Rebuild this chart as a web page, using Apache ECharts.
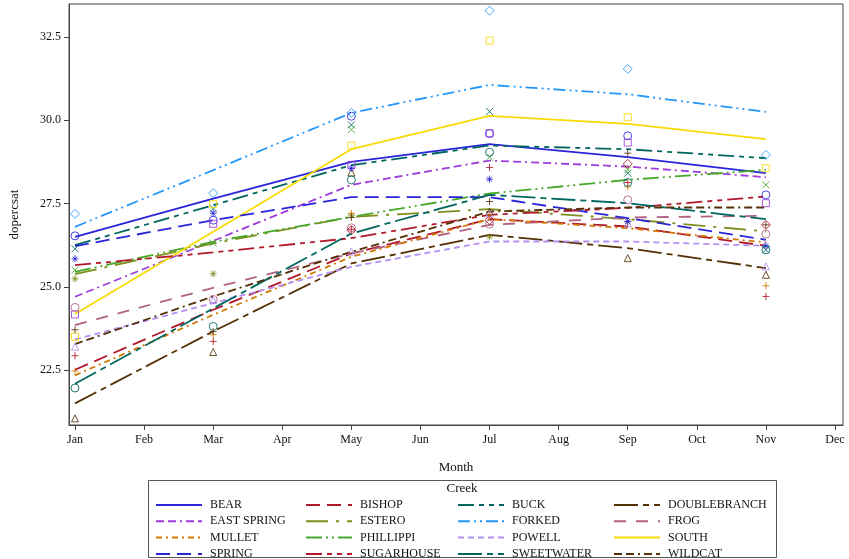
<!DOCTYPE html>
<html>
<head>
<meta charset="utf-8">
<script src="https://cdn.jsdelivr.net/npm/echarts@6/dist/echarts.min.js"></script>
<style>html,body{margin:0;padding:0;background:#fff}#chart{width:849px;height:559px}</style>
</head>
<body>
<div id="chart"></div>
<script>
// ---------- data ----------
const monthLabels = ['Jan','Feb','Mar','Apr','May','Jun','Jul','Aug','Sep','Oct','Nov','Dec'];
const sampleMonths = [1, 3, 5, 7, 9, 11];
const yTicks = [22.5, 25.0, 27.5, 30.0, 32.5];
const creeks = ['BEAR','BISHOP','BUCK','DOUBLEBRANCH','EAST SPRING','ESTERO','FORKED','FROG',
                'MULLET','PHILLIPPI','POWELL','SOUTH','SPRING','SUGARHOUSE','SWEETWATER','WILDCAT'];

// fitted curves (value at Jan, Mar, May, Jul, Sep, Nov)
const fitBear        = [26.50, 27.65, 28.75, 29.28, 28.89, 28.41];
const fitBishop      = [22.51, 24.31, 26.00, 27.03, 26.81, 26.23];
const fitBuck        = [26.25, 27.45, 28.65, 29.24, 29.13, 28.86];
const fitDoublebranch= [21.50, 23.66, 25.70, 26.56, 26.16, 25.56];
const fitEastSpring  = [24.70, 26.38, 28.06, 28.79, 28.61, 28.29];
const fitEstero      = [25.38, 26.30, 27.10, 27.33, 27.03, 26.66];
const fitForked      = [26.80, 28.50, 30.22, 31.06, 30.78, 30.25];
const fitFrog        = [23.85, 24.97, 26.00, 26.86, 27.08, 27.13];
const fitMullet      = [22.34, 24.16, 25.90, 27.03, 26.76, 26.33];
const fitPhillippi   = [25.45, 26.35, 27.10, 27.80, 28.21, 28.51];
const fitPowell      = [23.42, 24.51, 25.60, 26.36, 26.36, 26.23];
const fitSouth       = [24.18, 26.65, 29.13, 30.13, 29.89, 29.43];
const fitSpring      = [26.22, 27.00, 27.69, 27.69, 27.06, 26.41];
const fitSugarhouse  = [25.65, 26.03, 26.46, 27.16, 27.37, 27.71];
const fitSweetwater  = [22.09, 24.35, 26.60, 27.76, 27.51, 27.03];
const fitWildcat     = [23.28, 24.71, 26.05, 27.26, 27.38, 27.38];

// observed values (Jan, Mar, May, Jul, Sep, Nov)
const obsBear        = [26.53, 27.00, 30.12, 29.60, 29.53, 27.76];
const obsBishop      = [22.93, 23.36, 26.72, 28.58, 28.13, 24.71];
const obsBuck        = [26.14, 27.35, 29.86, 30.26, 28.41, 26.11];
const obsDoublebranch= [21.05, 23.04, 28.43, 27.25, 25.86, 25.36];
const obsEastSpring  = [24.17, 26.89, 28.66, 29.61, 29.33, 27.51];
const obsEstero      = [25.24, 25.39, 27.15, 26.50, 26.95, null];
const obsForked      = [27.19, 27.81, 30.22, 33.29, 31.54, 28.96];
const obsFrog        = [24.38, 24.62, 26.77, 26.88, 27.61, 26.58];
const obsMullet      = [22.47, 23.56, 27.20, 27.15, 28.00, 25.03];
const obsPhillippi   = [25.50, 26.31, 29.72, 28.89, 28.51, 28.06];
const obsPowell      = [23.20, 24.60, 26.06, 27.20, 26.90, 25.61];
const obsSouth       = [23.50, 27.48, 29.24, 32.39, 30.09, 28.56];
const obsSpring      = [25.84, 27.21, 28.56, 28.23, 26.96, 26.23];
const obsSugarhouse  = [null,  null,  26.70, 27.00, 28.69, 26.86];
const obsSweetwater  = [21.96, 23.81, 28.21, 29.04, 28.13, 26.11];
const obsWildcat     = [23.71, 23.66, 27.08, 27.56, 29.01, 26.86];

const fits = [fitBear, fitBishop, fitBuck, fitDoublebranch, fitEastSpring, fitEstero, fitForked, fitFrog,
              fitMullet, fitPhillippi, fitPowell, fitSouth, fitSpring, fitSugarhouse, fitSweetwater, fitWildcat];
const obs = [obsBear, obsBishop, obsBuck, obsDoublebranch, obsEastSpring, obsEstero, obsForked, obsFrog,
             obsMullet, obsPhillippi, obsPowell, obsSouth, obsSpring, obsSugarhouse, obsSweetwater, obsWildcat];

// ---------- styles ----------
const palette = ['#2A25D9','#B2182B','#01665E','#543005','#9D3CDB','#7F8E1F',
                 '#2597FA','#B26084','#D17800','#47A82A','#B38EF3','#F9DA04'];
const dashes = ['solid', [14,7], [16,5,5,5,5,5], [24,5,6,5], [8,4,8,4,2,4], [22,8,3,8],
                [12,4,2,4,2,4], [12,10], [6,4,2,4], [16,4,2,4,2,4], [6,4]];
const markers = ['circle',
                 'path://M5,0L5,10M0,5L10,5',
                 'path://M0,0L10,10M10,0L0,10',
                 'triangle', 'rect',
                 'path://M5,0L5,10M0,5L10,5M1.5,1.5L8.5,8.5M8.5,1.5L1.5,8.5',
                 'diamond'];
const FONT = '"Liberation Serif", "DejaVu Serif", serif';

const series = [];
creeks.forEach((name, i) => {
  const color = palette[i % 12];
  series.push({
    name: name, type: 'line', symbol: 'none', showSymbol: false, smooth: false, z: 2,
    data: sampleMonths.map((m, k) => [m, fits[i][k]]),
    lineStyle: { color: color, width: 1.8, type: dashes[i % 11] },
    itemStyle: { color: color },
    emphasis: { disabled: true }
  });
});
creeks.forEach((name, i) => {
  const color = palette[i % 12];
  const sym = markers[i % 7];
  series.push({
    name: name + ' obs', type: 'scatter', z: 3,
    symbol: sym,
    symbolSize: sym === 'diamond' ? 9 : (sym === 'circle' ? 8 : 7),
    data: sampleMonths.map((m, k) => obs[i][k] == null ? null : [m, obs[i][k]]).filter(d => d),
    itemStyle: { color: 'rgba(0,0,0,0)', borderColor: color, borderWidth: 1, opacity: 0.85 },
    emphasis: { disabled: true }
  });
});

const legendCols = [[0,4,8,12],[1,5,9,13],[2,6,10,14],[3,7,11,15]];
const legendLefts = [150, 300, 452, 608];
const legends = legendCols.map((col, c) => ({
  data: col.map(i => creeks[i]),
  orient: 'vertical', left: legendLefts[c], top: 494, height: 80,
  itemWidth: 46, itemHeight: 12, itemGap: 4.3,
  selectedMode: false,
  itemStyle: { opacity: 0 },
  textStyle: { fontFamily: FONT, fontSize: 12, color: '#111', padding: [0,0,0,3] }
}));

const chart = echarts.init(document.getElementById('chart'), null, { renderer: 'canvas' });
chart.setOption({
  animation: false,
  backgroundColor: '#fff',
  grid: { left: 69, right: 6, top: 4, bottom: 134, show: true, borderColor: '#444', borderWidth: 1 },
  xAxis: {
    type: 'value', min: 0.913, max: 12.116,
    name: 'Month', nameLocation: 'middle', nameGap: 36,
    nameTextStyle: { fontFamily: FONT, fontSize: 13, color: '#111' },
    axisLine: { show: true, onZero: false, lineStyle: { color: '#444' } },
    axisTick: { show: true, length: 5, customValues: monthLabels.map((_, k) => k + 1), lineStyle: { color: '#444' } },
    axisLabel: { customValues: monthLabels.map((_, k) => k + 1), formatter: v => monthLabels[Math.round(v) - 1],
                 fontFamily: FONT, fontSize: 12, color: '#111', margin: 9 },
    splitLine: { show: false }
  },
  yAxis: {
    type: 'value', min: 20.85, max: 33.49,
    name: 'dopercsat', nameLocation: 'middle', nameGap: 48, nameRotate: 90,
    nameTextStyle: { fontFamily: FONT, fontSize: 13, color: '#111' },
    axisLine: { show: true, onZero: false, lineStyle: { color: '#444' } },
    axisTick: { show: true, length: 5, customValues: yTicks, lineStyle: { color: '#444' } },
    axisLabel: { customValues: yTicks, formatter: v => v.toFixed(1),
                 fontFamily: FONT, fontSize: 12, color: '#111', margin: 8 },
    splitLine: { show: false }
  },
  legend: legends,
  graphic: [
    { type: 'rect', shape: { x: 148.5, y: 480.5, width: 628, height: 77 },
      style: { fill: 'none', stroke: '#555', lineWidth: 1 }, silent: true },
    { type: 'text', x: 462, y: 489, style: { text: 'Creek', fontFamily: FONT, fontSize: 13, fill: '#111',
      align: 'center', verticalAlign: 'middle' }, silent: true }
  ],
  series: series
});
</script>
</body>
</html>
